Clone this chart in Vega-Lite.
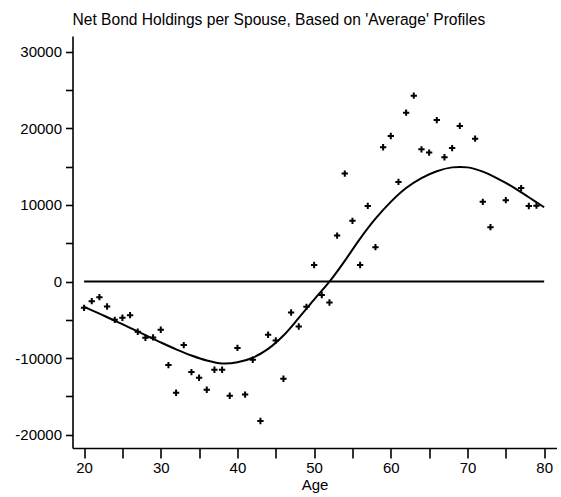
{
  "$schema": "https://vega.github.io/schema/vega-lite/v6.json",
  "width": 484,
  "height": 412,
  "autosize": "none",
  "padding": {"left": 72.5, "top": 36, "right": 4.3, "bottom": 48.7},
  "background": "white",
  "title": {
    "text": "Net Bond Holdings per Spouse, Based on 'Average' Profiles",
    "anchor": "start",
    "frame": "group",
    "font": "Liberation Sans",
    "fontSize": 15.6,
    "fontWeight": "normal",
    "color": "black",
    "baseline": "alphabetic",
    "offset": 11.6,
    "dy": 16.4
  },
  "config": {
    "view": {"stroke": null},
    "axis": {
      "grid": false,
      "domainColor": "black",
      "domainWidth": 1.6,
      "tickColor": "black",
      "tickWidth": 1.6,
      "labelFont": "Liberation Sans",
      "labelFontSize": 15,
      "labelColor": "black",
      "titleFont": "Liberation Sans",
      "titleFontSize": 15,
      "titleFontWeight": "normal",
      "titleColor": "black"
    }
  },
  "datasets": {
    "points": [
      {"age": 20, "value": -3430}, {"age": 21, "value": -2560}, {"age": 22, "value": -2040},
      {"age": 23, "value": -3260}, {"age": 24, "value": -5000}, {"age": 25, "value": -4730},
      {"age": 26, "value": -4390}, {"age": 27, "value": -6560}, {"age": 28, "value": -7340},
      {"age": 29, "value": -7300}, {"age": 30, "value": -6300}, {"age": 31, "value": -10910},
      {"age": 32, "value": -14520}, {"age": 33, "value": -8300}, {"age": 34, "value": -11820},
      {"age": 35, "value": -12560}, {"age": 36, "value": -14130}, {"age": 37, "value": -11520},
      {"age": 38, "value": -11520}, {"age": 39, "value": -14910}, {"age": 40, "value": -8670},
      {"age": 41, "value": -14760}, {"age": 42, "value": -10210}, {"age": 43, "value": -18210},
      {"age": 44, "value": -6950}, {"age": 45, "value": -7700}, {"age": 46, "value": -12690},
      {"age": 47, "value": -4040}, {"age": 48, "value": -5870}, {"age": 49, "value": -3300},
      {"age": 50, "value": 2160}, {"age": 51, "value": -1760}, {"age": 52, "value": -2740},
      {"age": 53, "value": 6000}, {"age": 54, "value": 14090}, {"age": 55, "value": 7920},
      {"age": 56, "value": 2160}, {"age": 57, "value": 9870}, {"age": 58, "value": 4480},
      {"age": 59, "value": 17530}, {"age": 60, "value": 19000}, {"age": 61, "value": 13000},
      {"age": 62, "value": 22040}, {"age": 63, "value": 24260}, {"age": 64, "value": 17260},
      {"age": 65, "value": 16830}, {"age": 66, "value": 21070}, {"age": 67, "value": 16220},
      {"age": 68, "value": 17420}, {"age": 69, "value": 20310}, {"age": 71, "value": 18650},
      {"age": 72, "value": 10400}, {"age": 73, "value": 7100}, {"age": 75, "value": 10620},
      {"age": 77, "value": 12200}, {"age": 78, "value": 9860}, {"age": 79, "value": 9900}
    ],
    "curve": [
      {"age": 20, "value": -3300}, {"age": 22, "value": -4200}, {"age": 24, "value": -5100},
      {"age": 26, "value": -6050}, {"age": 28, "value": -7000}, {"age": 30, "value": -7950},
      {"age": 32, "value": -8850}, {"age": 34, "value": -9650}, {"age": 36, "value": -10300},
      {"age": 38, "value": -10700}, {"age": 40, "value": -10550}, {"age": 42, "value": -9950},
      {"age": 44, "value": -8800}, {"age": 46, "value": -7050}, {"age": 48, "value": -4750},
      {"age": 50, "value": -2350}, {"age": 52, "value": -20}, {"age": 54, "value": 2700},
      {"age": 56, "value": 5600}, {"age": 58, "value": 8200}, {"age": 60, "value": 10400},
      {"age": 62, "value": 12200}, {"age": 64, "value": 13500}, {"age": 66, "value": 14400},
      {"age": 68, "value": 14900}, {"age": 70, "value": 14900}, {"age": 72, "value": 14350},
      {"age": 74, "value": 13400}, {"age": 76, "value": 12300}, {"age": 78, "value": 11000},
      {"age": 80, "value": 9700}
    ],
    "zero": [
      {"age": 20, "value": 0}, {"age": 80, "value": 0}
    ]
  },
  "encoding": {
    "x": {
      "field": "age",
      "type": "quantitative",
      "scale": {"domain": [18.49, 81.61], "nice": false, "zero": false},
      "axis": {
        "values": [20, 25, 30, 35, 40, 45, 50, 55, 60, 65, 70, 75, 80],
        "labelExpr": "datum.value % 10 === 0 ? datum.label : ''",
        "tickSize": 10,
        "labelPadding": 3,
        "labelFlush": false,
        "title": "Age",
        "titleY": 41.7,
        "titleBaseline": "alphabetic"
      }
    },
    "y": {
      "field": "value",
      "type": "quantitative",
      "scale": {"domain": [-21730, 32050], "nice": false, "zero": false},
      "axis": {
        "values": [-20000, -15000, -10000, -5000, 0, 5000, 10000, 15000, 20000, 25000, 30000],
        "labelExpr": "datum.value % 10000 === 0 ? toString(datum.value) : ''",
        "tickSize": 7,
        "labelPadding": 4,
        "labelFlush": false,
        "title": null
      }
    }
  },
  "layer": [
    {
      "data": {"name": "zero"},
      "mark": {"type": "line", "color": "black", "strokeWidth": 2}
    },
    {
      "data": {"name": "curve"},
      "mark": {"type": "line", "color": "black", "strokeWidth": 2, "interpolate": "catmull-rom"}
    },
    {
      "data": {"name": "points"},
      "mark": {
        "type": "point",
        "shape": "M-1,0H1M0,-1V1",
        "size": 40,
        "filled": false,
        "stroke": "black",
        "strokeWidth": 2,
        "opacity": 1
      }
    }
  ]
}
